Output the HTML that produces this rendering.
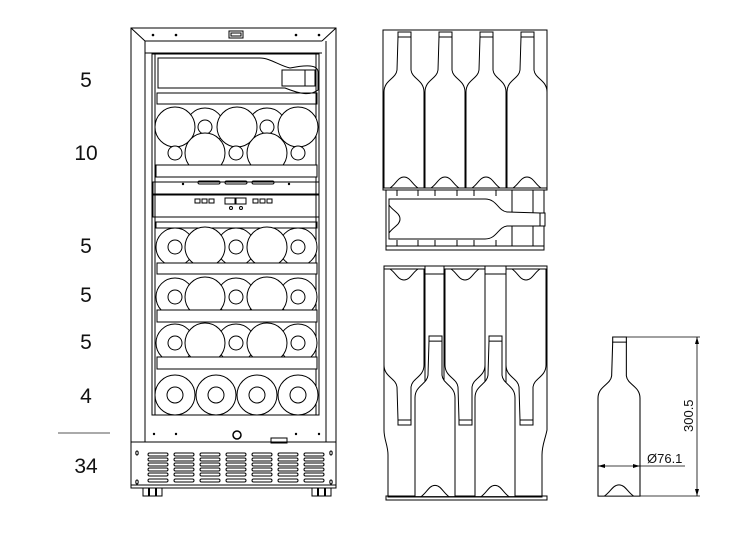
<!DOCTYPE html>
<html><head><meta charset="utf-8"><style>
html,body{margin:0;padding:0;background:#fff;}
svg{display:block;}
text{font-family:"Liberation Sans",Arial,sans-serif;fill:#111;}
</style></head><body>
<svg width="756" height="540" viewBox="0 0 756 540" xmlns="http://www.w3.org/2000/svg">
<defs>
<g id="bt">
<path d="M14,0 H27 V5 L27,38 C28,47 40,48 40,60 V156 H0 V60 C0,48 12,47 13,38 L14,5 Z" fill="#fff" stroke="#000" stroke-width="1"/>
<path d="M13.5,5 H27.5 M6,156 C12,152 14,145 20,145 C26,145 28,152 34,156" fill="none" stroke="#000" stroke-width="1"/>
</g>
<g id="row">
<circle cx="175" cy="0" r="19" fill="#fff" stroke="#000"/>
<circle cx="236" cy="0" r="19" fill="#fff" stroke="#000"/>
<circle cx="298" cy="0" r="19" fill="#fff" stroke="#000"/>
<circle cx="205" cy="0" r="20" fill="#fff" stroke="#000"/>
<circle cx="267" cy="0" r="20" fill="#fff" stroke="#000"/>
<circle cx="175" cy="0" r="7" fill="#fff" stroke="#000"/>
<circle cx="236" cy="0" r="7" fill="#fff" stroke="#000"/>
<circle cx="298" cy="0" r="7" fill="#fff" stroke="#000"/>
</g>
<g id="vent"><rect x="0" y="0" width="20" height="3" rx="1.5" fill="none" stroke="#000"/></g>
<g id="ventcol"><use href="#vent" y="0"/><use href="#vent" y="5"/><use href="#vent" y="10"/><use href="#vent" y="15"/><use href="#vent" y="20"/><use href="#vent" y="26"/></g>
</defs>

<g font-size="21" text-anchor="middle">
<text x="86" y="87">5</text>
<text x="86" y="160">10</text>
<text x="86" y="253">5</text>
<text x="86" y="302">5</text>
<text x="86" y="349">5</text>
<text x="86" y="403">4</text>
<text x="86" y="473">34</text>
</g>
<line x1="58" y1="433" x2="110" y2="433" stroke="#777" stroke-width="1.2"/>

<g fill="none" stroke="#000" stroke-width="1">
<rect x="131" y="28" width="205" height="414"/>
<line x1="131" y1="28" x2="145" y2="41"/><line x1="336" y1="28" x2="322" y2="41"/>
<line x1="145" y1="41" x2="322" y2="41"/>
<line x1="145" y1="53" x2="322" y2="53"/>
<line x1="145" y1="41" x2="145" y2="442"/><line x1="326" y1="41" x2="326" y2="442"/>
<rect x="152" y="54" width="167" height="361"/>
<line x1="155" y1="54" x2="155" y2="415"/><line x1="316" y1="54" x2="316" y2="415"/>
<rect x="229" y="31" width="14" height="7"/><rect x="231" y="33" width="10" height="3"/>
</g>
<g fill="#000"><circle cx="153" cy="35" r="1.3"/><circle cx="176" cy="35" r="1.3"/><circle cx="296" cy="35" r="1.3"/><circle cx="319" cy="35" r="1.3"/></g>

<path d="M158,58 H260 C270,58 280,66 290,68 C300,66 318,63 318,72 V90 C310,96 300,94 285,88 H158 Z" fill="none" stroke="#000"/>
<path d="M282,70 H315 V86 H282 Z M305,70 V86" fill="none" stroke="#000"/>
<rect x="157" y="93" width="160" height="11" fill="none" stroke="#000"/>

<!-- row 1 (big at 175,237,298) -->
<g fill="#fff" stroke="#000">
<circle cx="205" cy="127" r="19"/><circle cx="267" cy="127" r="19"/>
<circle cx="175" cy="127" r="20"/><circle cx="237" cy="127" r="20"/><circle cx="298" cy="127" r="20"/>
<circle cx="205" cy="127" r="7"/><circle cx="267" cy="127" r="7"/>
</g>
<g fill="#fff" stroke="#000">
<circle cx="205" cy="153" r="20"/><circle cx="267" cy="153" r="20"/>
<circle cx="175" cy="153" r="7"/><circle cx="236" cy="153" r="7"/><circle cx="298" cy="153" r="7"/>
<rect x="156" y="165" width="161" height="12"/>
</g>
<g fill="none" stroke="#000">
<rect x="153" y="182" width="166" height="12"/>
<rect x="198" y="181" width="22" height="3" rx="1.5"/><rect x="225" y="181" width="22" height="3" rx="1.5"/><rect x="252" y="181" width="22" height="3" rx="1.5"/>
<rect x="153" y="195" width="166" height="22"/>
<rect x="195" y="199" width="5" height="4"/><rect x="202" y="199" width="5" height="4"/><rect x="209" y="199" width="5" height="4"/>
<rect x="225" y="198" width="10" height="6"/><rect x="236" y="198" width="10" height="6"/>
<rect x="253" y="199" width="5" height="4"/><rect x="260" y="199" width="5" height="4"/><rect x="267" y="199" width="5" height="4"/>
<circle cx="231" cy="208" r="1.5"/><circle cx="241" cy="208" r="1.5"/>
<rect x="156" y="222" width="161" height="6"/>
</g>
<g fill="#000"><circle cx="183" cy="184" r="1.2"/><circle cx="289" cy="184" r="1.2"/></g>

<use href="#row" y="247"/>
<rect x="157" y="263" width="160" height="11" fill="#fff" stroke="#000"/>
<use href="#row" y="297"/>
<rect x="157" y="310" width="160" height="12" fill="#fff" stroke="#000"/>
<use href="#row" y="343"/>
<rect x="157" y="357" width="160" height="12" fill="#fff" stroke="#000"/>
<g fill="#fff" stroke="#000">
<circle cx="175" cy="395" r="20"/><circle cx="216" cy="395" r="20"/><circle cx="257" cy="395" r="20"/><circle cx="298" cy="395" r="20"/>
<circle cx="175" cy="395" r="8"/><circle cx="216" cy="395" r="8"/><circle cx="257" cy="395" r="8"/><circle cx="298" cy="395" r="8"/>
</g>

<g fill="#000"><circle cx="154" cy="434" r="1.2"/><circle cx="176" cy="434" r="1.2"/><circle cx="296" cy="434" r="1.2"/><circle cx="319" cy="434" r="1.2"/></g>
<circle cx="237" cy="435" r="4" fill="none" stroke="#000" stroke-width="1.5"/>
<rect x="271" y="438" width="16" height="5" fill="none" stroke="#000"/>
<rect x="131" y="442" width="205" height="46" fill="none" stroke="#000"/>
<line x1="131" y1="485" x2="336" y2="485" stroke="#000"/>
<g transform="translate(148,453)"><use href="#ventcol" x="0"/><use href="#ventcol" x="26"/><use href="#ventcol" x="52"/><use href="#ventcol" x="78"/><use href="#ventcol" x="104"/><use href="#ventcol" x="130"/><use href="#ventcol" x="156"/></g>
<g fill="none" stroke="#000"><ellipse cx="137" cy="453" rx="1.2" ry="2"/><ellipse cx="137" cy="482" rx="1.2" ry="2"/><ellipse cx="331" cy="453" rx="1.2" ry="2"/><ellipse cx="331" cy="482" rx="1.2" ry="2"/>
<rect x="143" y="488" width="19" height="8"/><rect x="312" y="488" width="19" height="8"/></g>
<g fill="#000"><rect x="148" y="488" width="2" height="8"/><rect x="155" y="488" width="2" height="8"/><rect x="317" y="488" width="2" height="8"/><rect x="324" y="488" width="2" height="8"/></g>

<g fill="none" stroke="#000">
<rect x="383" y="30" width="164" height="160"/>
</g>
<use href="#bt" transform="translate(384,32)"/>
<use href="#bt" transform="translate(425,32)"/>
<use href="#bt" transform="translate(466,32)"/>
<use href="#bt" transform="translate(507,32)"/>
<g fill="none" stroke="#000">
<rect x="386" y="190" width="158" height="60"/>
<line x1="386" y1="246" x2="544" y2="246"/>
<line x1="397" y1="190" x2="397" y2="196"/><line x1="418" y1="190" x2="418" y2="196"/><line x1="435" y1="190" x2="435" y2="196"/><line x1="457" y1="190" x2="457" y2="196"/><line x1="474" y1="190" x2="474" y2="196"/><line x1="496" y1="190" x2="496" y2="196"/>
<line x1="397" y1="240" x2="397" y2="246"/><line x1="418" y1="240" x2="418" y2="246"/><line x1="435" y1="240" x2="435" y2="246"/><line x1="457" y1="240" x2="457" y2="246"/><line x1="474" y1="240" x2="474" y2="246"/><line x1="496" y1="240" x2="496" y2="246"/>
<line x1="512" y1="190" x2="512" y2="246"/><line x1="533" y1="190" x2="533" y2="246"/>
</g>
<use href="#bt" transform="translate(545,199) rotate(90)"/>

<g fill="none" stroke="#000">
<path d="M384,266 H547 V430 C545,440 542,445 542,455 V497 H388 V455 C388,445 384,440 384,430 Z"/>
<rect x="386" y="496" width="161" height="4"/>
<line x1="425" y1="266" x2="425" y2="497"/><line x1="444" y1="266" x2="444" y2="497"/>
<line x1="485" y1="266" x2="485" y2="497"/><line x1="506" y1="266" x2="506" y2="497"/>
<line x1="425" y1="274" x2="444" y2="274"/><line x1="485" y1="274" x2="506" y2="274"/>
</g>
<use href="#bt" transform="translate(384,425) scale(1,-1)"/>
<use href="#bt" transform="translate(445,425) scale(1,-1)"/>
<use href="#bt" transform="translate(506,425) scale(1,-1)"/>
<use href="#bt" transform="translate(415,336) scale(1,1.03)"/>
<use href="#bt" transform="translate(475,336) scale(1,1.03)"/>

<use href="#bt" transform="translate(598,337) scale(1.05,1.02)"/>
<g fill="none" stroke="#000" stroke-width="0.8">
<line x1="625" y1="337" x2="700" y2="337"/>
<line x1="640" y1="496" x2="700" y2="496"/>
<line x1="697" y1="337" x2="697" y2="496"/>
<line x1="598" y1="466" x2="685" y2="466"/>
</g>
<g fill="#000">
<path d="M697,337 L695,344 L699,344 Z"/><path d="M697,496 L695,489 L699,489 Z"/>
<path d="M598,466 L605,464 L605,468 Z"/><path d="M640,466 L633,464 L633,468 Z"/>
</g>
<text x="647" y="463" font-size="13">Ø76.1</text>
<text transform="translate(693,432) rotate(-90)" font-size="13">300.5</text>
</svg>
</body></html>
